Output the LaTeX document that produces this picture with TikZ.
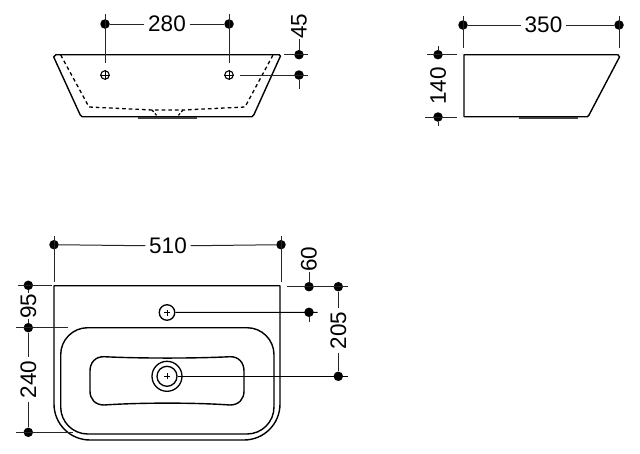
\documentclass[tikz,border=0pt]{standalone}
\usepackage{fontspec}
\setmainfont{Liberation Sans}
\tikzset{
  body/.style={line width=1.4pt,black,line join=round},
  dimline/.style={line width=1pt,black!85},
  dot/.style={circle,fill=black,draw=none,inner sep=0pt,minimum size=9.5pt},
  lbl/.style={font=\fontsize{22.5}{22.5}\selectfont,inner sep=0pt,text=black},
  lblh/.style={lbl,minimum width=45pt,minimum height=16pt},
  lblv/.style={lbl,rotate=90,minimum width=36pt,minimum height=16pt},
  hole/.style={circle,draw=black,line width=1.3pt,fill=white,inner sep=0pt}
}
\begin{document}
\begin{tikzpicture}[x=1pt,y=-1pt]
\useasboundingbox (0,0) rectangle (640,453);
\fill[white] (0,0) rectangle (640,453);

% ---- front view
\draw[body] (56,54.7) -- (279,54.7) -- (280.5,56) -- (254,114.5) -- (252,116.7) -- (82,116.7) -- (80,114.5) -- (53.7,57) -- cycle;
\draw[body,line width=1.3pt,dash pattern=on 3.6pt off 3pt] (60.7,55) -- (89,107) -- (152,110) -- (183,110) -- (245,107) -- (273,55);
\draw[body,line width=1.2pt,dash pattern=on 2.5pt off 2pt] (152,110) -- (158,117) (183,110) -- (177,117);
\fill[black!75] (138,116.7) rectangle (197,119);
\node[hole,line width=1.1pt,minimum size=8.5pt] (h1) at (105,75) {};
\node[hole,line width=1.1pt,minimum size=8.5pt] (h2) at (229,75) {};
\draw[line width=0.9pt] (h1.north) -- (h1.south) (h1.west) -- (h1.east) (h2.north) -- (h2.south) (h2.west) -- (h2.east);
\node[dot] (a1) at (105,24) {};
\node[dot] (a2) at (229,24) {};
\node[lblh] (t280) at (167,24) {280};
\coordinate (a1t) at (105,14); \coordinate (a1b) at (105,63);
\coordinate (a2t) at (229,14); \coordinate (a2b) at (229,63);
\draw[dimline] (a1t) -- (a1b) (a2t) -- (a2b);
\draw[dimline] (a1) -- (t280); \draw[dimline] (t280) -- (a2);
\node[dot] (b1) at (299,54.7) {};
\node[dot] (b2) at (299,75) {};
\node[lblv,minimum width=24pt] (t45) at (299,26) {45};
\coordinate (b1l) at (284,54.7); \coordinate (b1r) at (308,54.7);
\coordinate (b2l) at (240,75); \coordinate (b2r) at (308,75);
\coordinate (b2b) at (299,89);
\draw[dimline] (b1l) -- (b1r) (b2l) -- (b2r) (t45) -- (b1) (b2) -- (b2b);

% ---- side view
\draw[body] (464,54.7) -- (618,54.7) -- (619.5,57) -- (589,115) -- (587.5,116.7) -- (464,116.7) -- cycle;
\fill[black!75] (519,116.7) rectangle (578,119);
\node[dot] (c1) at (463,25) {};
\node[dot] (c2) at (619,25) {};
\node[lblh] (t350) at (543.5,25) {350};
\coordinate (c1t) at (463,16); \coordinate (c1b) at (463,48);
\coordinate (c2t) at (619,16); \coordinate (c2b) at (619,48);
\draw[dimline] (c1t) -- (c1b) (c2t) -- (c2b);
\draw[dimline] (c1) -- (t350); \draw[dimline] (t350) -- (c2);
\node[dot] (d1) at (438,54.7) {};
\node[dot] (d2) at (438,117) {};
\node[lblv] (t140) at (438,86) {140};
\coordinate (d1l) at (427,54.7); \coordinate (d1r) at (457,54.7);
\coordinate (d2l) at (425,117); \coordinate (d2r) at (457,117);
\coordinate (d1t) at (438,46); \coordinate (d2b) at (438,126);
\draw[dimline] (d1l) -- (d1r) (d2l) -- (d2r) (d1t) -- (d1) (d2) -- (d2b);

% ---- plan view
\draw[body] (54,285.7) -- (280,285.7) [rounded corners=36pt] -- (280,440) -- (54,440) [sharp corners] -- (54,404) -- cycle;
\draw[body,rounded corners=27pt] (60.7,380) -- (60.7,327.7) -- (274,327.7) -- (274,434) -- (60.7,434) -- cycle;
\draw[body] (104,356.7) .. controls (140,358.5) and (195,358.5) .. (230,356.7)
  .. controls (239,356.5) and (244,363) .. (244,371) -- (244,391)
  .. controls (244,399) and (239,405) .. (230,405)
  .. controls (195,402.5) and (140,402.5) .. (104,405)
  .. controls (95,405) and (90,399) .. (90,391) -- (90,371)
  .. controls (90,363) and (95,356.5) .. (104,356.7) -- cycle;
\node[hole,minimum size=30pt] (drainout) at (167,376.3) {};
\node[hole,minimum size=20pt] (drainin) at (167,376.3) {};
\node[hole,minimum size=15.5pt] (tap) at (167,312.5) {};
\draw[line width=1pt] (164,376.3) -- (170,376.3) (167,373.3) -- (167,379.3);
\draw[line width=1pt] (164,312.5) -- (170,312.5) (167,309.5) -- (167,315.5);

\node[dot] (e1) at (54,244.7) {};
\node[dot] (e2) at (281,244.7) {};
\node[lblh] (t510) at (168,246) {510};
\coordinate (e1t) at (54,236); \coordinate (e1b) at (54,282);
\coordinate (e2t) at (281,236); \coordinate (e2b) at (281,282);
\draw[dimline] (e1t) -- (e1b) (e2t) -- (e2b);
\draw[dimline] (e1) -- (t510); \draw[dimline] (t510) -- (e2);

\node[dot] (f1) at (28.3,285.3) {};
\node[dot] (f2) at (28.3,327.7) {};
\node[dot] (f3) at (28.3,432.3) {};
\node[lblv,minimum width=24pt] (t95) at (28.3,306) {95};
\node[lblv,minimum width=44pt] (t240) at (28.3,379.5) {240};
\coordinate (f1l) at (18,285.3); \coordinate (f1r) at (52,285.3);
\coordinate (f2l) at (16,327.7); \coordinate (f2r) at (68,327.7);
\coordinate (f3l) at (16,432.3); \coordinate (f3r) at (73,432.3);
\draw[dimline] (f1l) -- (f1r) (f2l) -- (f2r) (f3l) -- (f3r);
\draw[dimline] (f1) -- (t95); \draw[dimline] (t95) -- (f2);
\draw[dimline] (f2) -- (t240); \draw[dimline] (t240) -- (f3);

\node[dot] (g1) at (309,286.7) {};
\node[dot] (g2) at (309,312.3) {};
\node[dot] (g3) at (338.3,286.7) {};
\node[dot] (g4) at (338.3,376.3) {};
\node[lblv,minimum width=24pt] (t60) at (309,259) {60};
\node[lblv,minimum width=44pt] (t205) at (338.3,330.5) {205};
\coordinate (g1l) at (286.7,286.7); \coordinate (g1r) at (347.7,286.7);
\coordinate (g2r) at (317.7,312.3); \coordinate (g2b) at (309,322);
\coordinate (g4r) at (347.7,376.3);
\draw[dimline] (g1l) -- (g1r) (t60) -- (g1) (g2) -- (g2b);
\draw[dimline,black] (tap) -- (g2r);
\draw[dimline,black] (drainin) -- (g4r);
\draw[dimline] (g3) -- (t205); \draw[dimline] (t205) -- (g4);
\end{tikzpicture}
\end{document}
